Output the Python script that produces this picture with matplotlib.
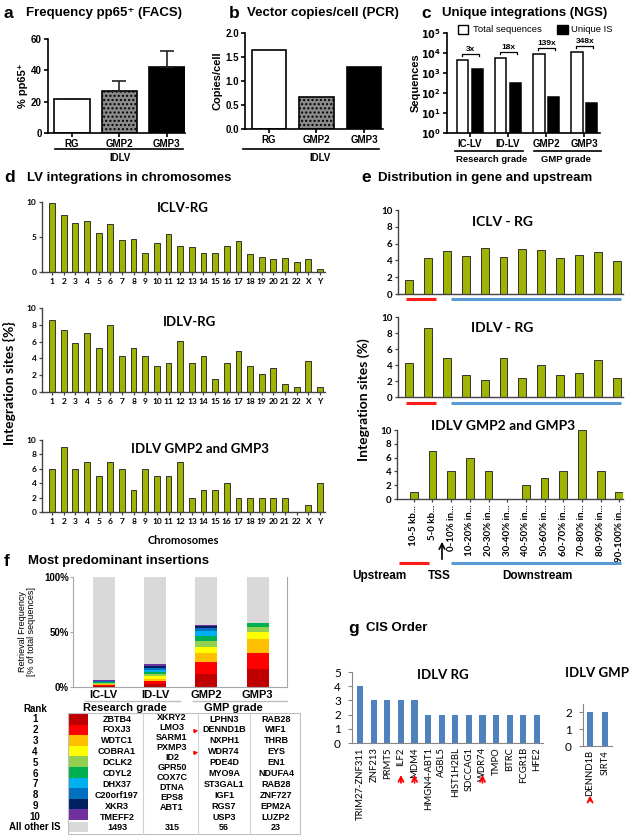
import matplotlib
matplotlib.use("Agg")
import matplotlib.pyplot as plt
import numpy as np
from matplotlib.lines import Line2D
from matplotlib.patches import Rectangle

plt.rcParams['font.family'] = ['Liberation Sans', 'DejaVu Sans']
plt.rcParams['hatch.color'] = '#3a3a3a'
CAL = ['Lato', 'DejaVu Sans']

# ---------------- data ----------------
a_groups = ["RG", "GMP2", "GMP3"]
a_values = [22, 27, 42]
a_err = [0, 6.5, 10.5]

b_groups = ["RG", "GMP2", "GMP3"]
b_values = [1.65, 0.67, 1.30]

c_groups = ["IC-LV", "ID-LV", "GMP2", "GMP3"]
c_total = [4500, 5500, 9000, 11500]
c_unique = [1500, 300, 65, 33]
c_ratio = ["3x", "18x", "139x", "348x"]

chromosomes = [str(i) for i in range(1, 23)] + ["X", "Y"]
d_iclv_rg = [9.8, 8.2, 7.0, 7.3, 5.6, 6.9, 4.6, 4.7, 2.7, 4.1, 5.5, 3.7,
             3.6, 2.7, 2.7, 3.7, 4.5, 2.6, 2.1, 1.8, 2.0, 1.4, 1.9, 0.4]
d_idlv_rg = [8.6, 7.4, 5.8, 7.0, 5.2, 8.0, 4.3, 5.2, 4.3, 3.1, 3.4, 6.1,
             3.4, 4.3, 1.5, 3.4, 4.9, 3.1, 2.1, 2.8, 0.9, 0.6, 3.7, 0.6]
d_idlv_gmp = [6, 9, 6, 7, 5, 7, 6, 3, 6, 5, 5, 7,
              2, 3, 3, 4, 2, 2, 2, 2, 2, 0, 1, 4]

e_bins = ["10-5 kb...", "5-0 kb...", "0-10% in...", "10-20% in...", "20-30% in...",
          "30-40% in...", "40-50% in...", "50-60% in...", "60-70% in...",
          "70-80% in...", "80-90% in...", "90-100% in..."]
e_iclv_rg = [1.7, 4.3, 5.1, 4.5, 5.5, 4.4, 5.4, 5.2, 4.3, 4.6, 5.0, 3.9]
e_idlv_rg = [4.3, 8.6, 4.9, 2.7, 2.1, 4.9, 2.4, 4.0, 2.7, 3.0, 4.6, 2.4]
e_idlv_gmp = [1, 7, 4, 6, 4, 0, 2, 3, 4, 10, 4, 1]

f_groups = ["IC-LV", "ID-LV", "GMP2", "GMP3"]
f_rank_colors = ["#c00000", "#ff0000", "#ffc000", "#ffff00", "#92d050",
                 "#00b050", "#00b0f0", "#0070c0", "#002060", "#7030a0"]
f_icl = [1.0, 0.8, 0.7, 0.6, 0.6, 0.5, 0.5, 0.5, 0.5, 0.4]
f_idl = [3.0, 2.5, 2.2, 2.0, 2.0, 2.0, 2.0, 1.8, 1.8, 1.7]
f_gmp2 = [11.5, 11.0, 8.0, 6.0, 5.5, 4.5, 4.2, 2.5, 2.4, 1.2]
f_gmp3 = [16.4, 14.8, 12.7, 6.0, 4.5, 4.0, 0, 0, 0, 0]
f_genes_icl = ["ZBTB4", "FOXJ3", "WDTC1", "COBRA1", "DCLK2", "CDYL2", "DHX37",
               "C20orf197", "XKR3", "TMEFF2"]
f_genes_idl = ["XKRY2", "LMO3", "SARM1", "PXMP3", "ID2", "GPR50", "COX7C",
               "DTNA", "EPS8", "ABT1"]
f_genes_gmp2 = ["LPHN3", "DENND1B", "NXPH1", "WDR74", "PDE4D", "MYO9A",
                "ST3GAL1", "IGF1", "RGS7", "USP3"]
f_genes_gmp3 = ["RAB28", "WIF1", "THRB", "EYS", "EN1", "NDUFA4", "RAB28",
                "ZNF727", "EPM2A", "LUZP2"]
f_other = ["1493", "315", "56", "23"]
f_marked = ["DENND1B", "WDR74"]

g_rg_genes = ["TRIM27-ZNF311", "ZNF213", "PRMT5", "ILF2", "MDM4", "HMGN4-ABT1",
              "AGBL5", "HIST1H2BL", "SDCCAG1", "WDR74", "TMPO", "BTRC", "FCGR1B", "HFE2"]
g_rg_values = [4, 3, 3, 3, 3, 2, 2, 2, 2, 2, 2, 2, 2, 2]
g_gmp_genes = ["DENND1B", "SIRT4"]
g_gmp_values = [2, 2]
g_marked = ["ILF2", "MDM4", "WDR74", "DENND1B"]

# ---------------- helpers ----------------
W, H = 632, 838
fig = plt.figure(figsize=(W / 100, H / 100), dpi=100)
fig.patch.set_facecolor("white")


def R(x0, y0, x1, y1):
    return [x0 / W, 1 - y1 / H, (x1 - x0) / W, (y1 - y0) / H]


def T(x, y, s, **kw):
    kw.setdefault("va", "center")
    return fig.text(x / W, 1 - y / H, s, **kw)


def L(x0, y0, x1, y1, **kw):
    fig.add_artist(Line2D([x0 / W, x1 / W], [1 - y0 / H, 1 - y1 / H], **kw))


def panel_title(x_letter, x_text, y, letter, text, size=9.5):
    T(x_letter, y, letter, fontsize=size + 3, fontweight="bold", ha="left")
    T(x_text, y, text, fontsize=size, fontweight="bold", ha="left")


def style_prism(ax):
    for s in ["top", "right"]:
        ax.spines[s].set_visible(False)
    for s in ["left", "bottom"]:
        ax.spines[s].set_linewidth(1.2)
    ax.tick_params(axis="both", width=1.2, length=3, labelsize=7, pad=1.5)
    for lab in ax.get_yticklabels() + ax.get_xticklabels():
        lab.set_fontweight("bold")


# ---------------- panel a ----------------
panel_title(4, 26, 13, "a", "Frequency pp65\u207a (FACS)")
ax = fig.add_axes(R(48, 39, 185, 133))
xa = np.arange(len(a_groups))
ax.bar(xa, a_values, width=0.75, color=["white", "#8a8a8a", "black"],
       edgecolor="black", linewidth=1.2, hatch=[None, "....", None])
ax.errorbar(xa, a_values, yerr=[np.zeros(3), a_err], fmt="none", ecolor="#222222",
            capsize=5, elinewidth=1.2, capthick=1.2)
ax.set_xlim(-0.5, 2.38)
ax.set_ylim(0, 60)
ax.set_yticks([0, 20, 40, 60])
ax.set_xticks(xa)
ax.set_xticklabels(a_groups)
style_prism(ax)
ax.set_ylabel("% pp65\u207a", fontsize=8, fontweight="bold", labelpad=2)
L(55, 149, 183, 149, color="black", lw=1.2)
T(120, 158, "IDLV", fontsize=7, fontweight="bold", ha="center")

# ---------------- panel b ----------------
panel_title(229, 247, 13, "b", "Vector copies/cell (PCR)")
ax = fig.add_axes(R(245, 33, 383, 129))
xb = np.arange(len(b_groups))
ax.bar(xb, b_values, width=0.72, color=["white", "#8a8a8a", "black"],
       edgecolor="black", linewidth=1.2, hatch=[None, "....", None])
ax.set_xlim(-0.5, 2.4)
ax.set_ylim(0, 2.0)
ax.set_yticks([0, 0.5, 1.0, 1.5, 2.0])
ax.set_yticklabels(["0.0", "0.5", "1.0", "1.5", "2.0"])
ax.set_xticks(xb)
ax.set_xticklabels(b_groups)
style_prism(ax)
ax.set_ylabel("Copies/cell", fontsize=8, fontweight="bold", labelpad=2)
L(243, 149, 379, 149, color="black", lw=1.2)
T(320, 158, "IDLV", fontsize=7, fontweight="bold", ha="center")

# ---------------- panel c ----------------
panel_title(421, 442, 13, "c", "Unique integrations (NGS)")
ax = fig.add_axes(R(447, 33, 600, 133))
xc = np.arange(len(c_groups))
off = 0.185
bw = 0.29
ax.bar(xc - off, c_total, width=bw, color="white", edgecolor="black", linewidth=1.1)
ax.bar(xc + off, c_unique, width=bw, color="black", edgecolor="black", linewidth=1.1)
ax.set_yscale("log")
ax.set_ylim(1, 1e5)
ax.set_xlim(-0.605, 3.42)
ax.set_yticks([1, 10, 100, 1000, 1e4, 1e5])
ax.set_yticklabels([r"$\mathbf{10^{%d}}$" % i for i in range(6)])
ax.set_xticks(xc)
ax.set_xticklabels(c_groups)
style_prism(ax)
ax.tick_params(axis="y", which="minor", length=1.5, width=0.8)
ax.set_ylabel("Sequences", fontsize=8, fontweight="bold", labelpad=0)
for i, (tot, r) in enumerate(zip(c_total, c_ratio)):
    yb = 10 ** (np.log10(tot) + 0.3)
    x0, x1 = i - off - 0.02, i + off + 0.06
    ax.plot([x0, x0, x1, x1], [yb * 0.8, yb, yb, yb * 0.8], color="black", lw=0.9, clip_on=False)
    ax.text(i + 0.02, yb * 1.15, r, fontsize=6, fontweight="bold", ha="center", va="bottom")
# legend
fig.add_artist(Rectangle((458 / W, 1 - 34 / H), 10 / W, 9 / H, facecolor="white",
                         edgecolor="black", lw=1, transform=fig.transFigure))
T(473, 29, "Total sequences", fontsize=6.8, ha="left")
fig.add_artist(Rectangle((557 / W, 1 - 34 / H), 11 / W, 9 / H, facecolor="black",
                         edgecolor="black", lw=1, transform=fig.transFigure))
T(571, 29, "Unique IS", fontsize=6.8, ha="left")
L(455, 151, 523, 151, color="black", lw=1.2)
T(492, 159, "Research grade", fontsize=6.8, fontweight="bold", ha="center")
L(534, 151, 601, 151, color="black", lw=1.2)
T(566, 159, "GMP grade", fontsize=6.8, fontweight="bold", ha="center")

# ---------------- panel d ----------------
panel_title(4, 27, 178, "d", "LV integrations in chromosomes")
OLIVE = "#9fb300"


def style_cal(ax, size=6):
    for s in ["top", "right"]:
        ax.spines[s].set_visible(False)
    for s in ["left", "bottom"]:
        ax.spines[s].set_color("#444444")
        ax.spines[s].set_linewidth(1.0)
    ax.tick_params(axis="both", length=2.5, width=0.9, color="#444444", labelsize=size, pad=1.5)
    for lab in ax.get_yticklabels() + ax.get_xticklabels():
        lab.set_fontweight("bold")
        lab.set_fontfamily(CAL)


xd = np.arange(len(chromosomes))
d_sets = [(d_iclv_rg, (202, 272), [0, 5, 10], "ICLV-RG", (183, 208)),
          (d_idlv_rg, (308, 392), [0, 2, 4, 6, 8, 10], "IDLV-RG", (190, 322)),
          (d_idlv_gmp, (440, 512), [0, 2, 4, 6, 8, 10], "IDLV GMP2 and GMP3", (200, 449))]
for vals, (yt, yb_), ticks, ttl, (tx, ty) in d_sets:
    ax = fig.add_axes(R(42, yt, 325, yb_))
    ax.bar(xd, vals, width=0.5, color=OLIVE, edgecolor="#333333", linewidth=0.7)
    ax.set_xlim(-0.86, 23.43)
    ax.set_ylim(0, 10)
    ax.set_yticks(ticks)
    ax.set_xticks(xd)
    ax.set_xticklabels(chromosomes)
    style_cal(ax)
    T(tx, ty, ttl, fontsize=9.5, fontweight="bold", ha="center", family=CAL)
T(183, 540, "Chromosomes", fontsize=8, fontweight="bold", ha="center", family=CAL)
T(9, 383, "Integration sites {%}", fontsize=10, fontweight="bold", ha="center",
  rotation=90, family=CAL)

# ---------------- panel e ----------------
panel_title(361, 378, 178, "e", "Distribution in gene and upstream")
xe = np.arange(len(e_bins))
e_sets = [(e_iclv_rg, (210, 294), (398, 623), (-0.58, 11.32), "ICLV - RG", (502, 222), 299),
          (e_idlv_rg, (317, 397), (398, 623), (-0.58, 11.32), "IDLV - RG", (502, 328), 403),
          (e_idlv_gmp, (430, 499), (397, 623), (-0.9, 11.2), "IDLV GMP2 and GMP3", (503, 426), 563)]
for k, (vals, (yt, yb_), (xl, xr), xlim, ttl, (tx, ty), ly) in enumerate(e_sets):
    ax = fig.add_axes(R(xl, yt, xr, yb_))
    ax.bar(xe, vals, width=0.42, color=OLIVE, edgecolor="#333333", linewidth=0.7)
    ax.set_xlim(*xlim)
    ax.set_ylim(0, 10)
    ax.set_yticks([0, 2, 4, 6, 8, 10])
    if k == 2:
        ax.set_xticks(xe)
        ax.set_xticklabels(e_bins, rotation=90, va="top")
    else:
        ax.set_xticks([])
    style_cal(ax, size=7)
    T(tx, ty, ttl, fontsize=10, fontweight="bold", ha="center", family=CAL)
    if k < 2:
        L(406, ly, 436, ly, color="#ff1a1a", lw=2.2, solid_capstyle="butt")
    else:
        L(399, ly, 429, ly, color="#ff1a1a", lw=2.2, solid_capstyle="butt")
    L(451, ly, 621, ly, color="#5b9bd5", lw=2.2, solid_capstyle="butt")
fig.add_artist(matplotlib.patches.FancyArrowPatch((442 / W, 1 - 562 / H), (442 / W, 1 - 539 / H),
               transform=fig.transFigure, arrowstyle="->", mutation_scale=10, lw=1.2, color="black"))
T(379, 576, "Upstream", fontsize=8.5, fontweight="bold", ha="center")
T(439, 576, "TSS", fontsize=8.5, fontweight="bold", ha="center")
T(537, 576, "Downstream", fontsize=8.5, fontweight="bold", ha="center")
T(364, 400, "Integration sites (%)", fontsize=10, fontweight="bold", ha="center",
  rotation=90, family=CAL)

# ---------------- panel f ----------------
panel_title(4, 28, 561, "f", "Most predominant insertions")
ax = fig.add_axes(R(73, 577, 287, 687))
xf = np.arange(len(f_groups))
stacks = [f_icl, f_idl, f_gmp2, f_gmp3]
ax.bar(xf, [100] * 4, width=0.43, color="#d9d9d9", edgecolor="none")
for i, st in enumerate(stacks):
    bottom = 0
    for v, c in zip(st, f_rank_colors):
        if v > 0:
            ax.bar(xf[i], v, bottom=bottom, width=0.43, color=c, edgecolor="none")
        bottom += v
ax.set_xlim(-0.6, 3.57)
ax.set_ylim(0, 100)
ax.set_yticks([0, 50, 100])
ax.set_yticklabels(["0%", "50%", "100%"])
ax.set_xticks(xf)
ax.set_xticklabels(f_groups)
ax.spines["top"].set_visible(False)
for s in ["left", "bottom", "right"]:
    ax.spines[s].set_color("#a6a6a6")
    ax.spines[s].set_linewidth(0.8)
ax.tick_params(axis="y", labelsize=7, length=2, color="#a6a6a6", pad=1)
ax.tick_params(axis="x", labelsize=8, length=0, pad=2)
for lab in ax.get_yticklabels() + ax.get_xticklabels():
    lab.set_fontweight("bold")
ax.set_ylabel("Retrieval Frequency\n[% of total sequences]", fontsize=6.5, labelpad=6,
              linespacing=1.0)

# table
T(125, 708, "Research grade", fontsize=8, fontweight="bold", ha="center")
T(233, 708, "GMP grade", fontsize=8, fontweight="bold", ha="center")
L(85, 701, 180, 701, color="#bfbfbf", lw=1)
L(193, 701, 287, 701, color="#bfbfbf", lw=1)
T(35, 709, "Rank", fontsize=7, fontweight="bold", ha="center")
row_y = [719 + i * 10.9 for i in range(10)]
sw_top = 714
sw_h = (820 - 714) / 10
for i in range(10):
    T(35, row_y[i], str(i + 1), fontsize=7, fontweight="bold", ha="center")
    fig.add_artist(Rectangle((68 / W, 1 - (sw_top + (i + 1) * sw_h) / H), 20 / W, sw_h / H,
                             facecolor=f_rank_colors[i], edgecolor="none",
                             transform=fig.transFigure))
    T(117, row_y[i], f_genes_icl[i], fontsize=6.5, fontweight="bold", ha="center")
    T(172, 717 + i * 10.0, f_genes_idl[i], fontsize=6.5, fontweight="bold", ha="center")
    T(224, row_y[i], f_genes_gmp2[i], fontsize=6.5, fontweight="bold", ha="center")
    T(276, row_y[i], f_genes_gmp3[i], fontsize=6.5, fontweight="bold", ha="center")
    if f_genes_gmp2[i] in f_marked:
        fig.add_artist(matplotlib.patches.FancyArrowPatch(
            (193 / W, 1 - (row_y[i] + 1.5) / H), (201 / W, 1 - row_y[i] / H),
            transform=fig.transFigure, arrowstyle="-|>", mutation_scale=5, lw=1, color="red"))
fig.add_artist(Rectangle((68 / W, 1 - 832 / H), 20 / W, 10 / H, facecolor="#d9d9d9",
                         edgecolor="none", transform=fig.transFigure))
T(35, 827, "All other IS", fontsize=7, fontweight="bold", ha="center")
for xx, s in zip([117, 172, 224, 276], f_other):
    T(xx, 827, s, fontsize=6.5, fontweight="bold", ha="center")
fig.add_artist(Rectangle((68 / W, 1 - 834 / H), 232 / W, 121 / H, facecolor="none",
                         edgecolor="#bfbfbf", lw=0.8, transform=fig.transFigure))
for xx in [143, 198, 250]:
    L(xx, 713, xx, 834, color="#d0d0d0", lw=0.8)

# ---------------- panel g ----------------
panel_title(348, 366, 628, "g", "CIS Order", size=9.5)
BLUE = "#4f81bd"


def style_excel(ax):
    for s in ["top", "right"]:
        ax.spines[s].set_visible(False)
    for s in ["left", "bottom"]:
        ax.spines[s].set_color("#868686")
        ax.spines[s].set_linewidth(0.8)
    ax.tick_params(axis="y", labelsize=8.5, length=3, color="#868686", pad=5)
    ax.tick_params(axis="x", labelsize=6.8, length=0, pad=3)
    for lab in ax.get_yticklabels() + ax.get_xticklabels():
        lab.set_fontfamily(CAL)


ax = fig.add_axes(R(352, 672, 543, 743))
xg = np.arange(len(g_rg_genes))
ax.bar(xg, g_rg_values, width=0.45, color=BLUE)
ax.set_xlim(-0.6, 13.45)
ax.set_ylim(0, 5)
ax.set_yticks(range(6))
ax.set_xticks(xg)
ax.set_xticklabels(g_rg_genes, rotation=90)
style_excel(ax)
for i, g in enumerate(g_rg_genes):
    if g in g_marked:
        ax.annotate("", xy=(i, -0.41), xytext=(i, -0.60), xycoords=("data", "axes fraction"),
                    textcoords=("data", "axes fraction"),
                    arrowprops=dict(arrowstyle="->", color="red", lw=1.3, mutation_scale=9))
T(443, 675, "IDLV RG", fontsize=9.5, fontweight="bold", ha="center", family=CAL)

ax = fig.add_axes(R(583, 703.5, 612, 746))
xg2 = np.arange(len(g_gmp_genes))
ax.bar(xg2, g_gmp_values, width=0.4, color=BLUE)
ax.set_xlim(-0.47, 1.47)
ax.set_ylim(0, 2.5)
ax.set_yticks([0, 1, 2])
ax.set_xticks(xg2)
ax.set_xticklabels(g_gmp_genes, rotation=90)
style_excel(ax)
for i, g in enumerate(g_gmp_genes):
    if g in g_marked:
        ax.annotate("", xy=(i, -1.1), xytext=(i, -1.36), xycoords=("data", "axes fraction"),
                    textcoords=("data", "axes fraction"),
                    arrowprops=dict(arrowstyle="->", color="red", lw=1.3, mutation_scale=9))
T(597, 673, "IDLV GMP", fontsize=9.5, fontweight="bold", ha="center", family=CAL)

fig.savefig("out.png", dpi=100, facecolor="white")
